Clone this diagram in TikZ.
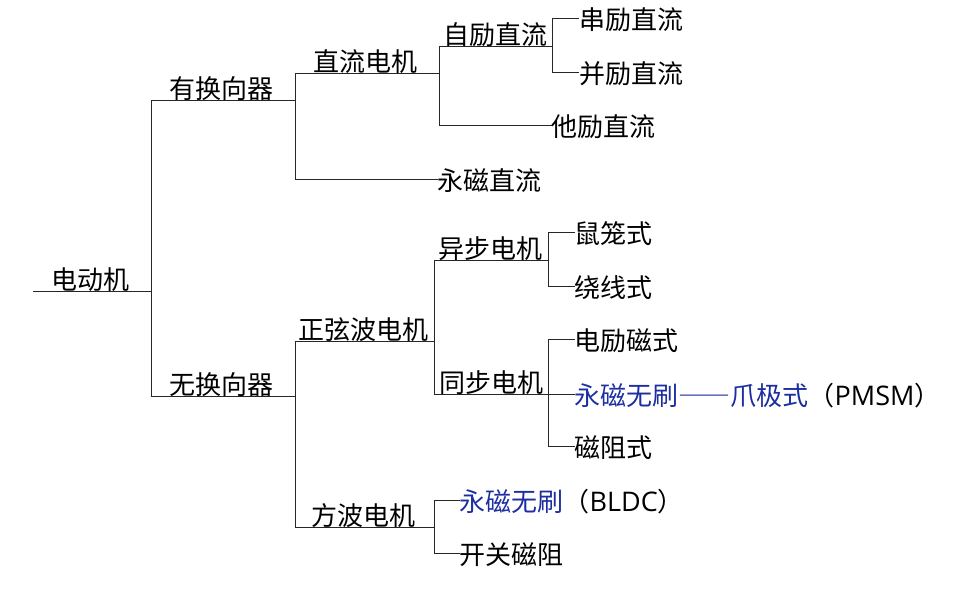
\documentclass[tikz,border=0pt]{standalone}
\usepackage{fontspec}
\setmainfont{Noto Sans CJK SC}
\newfontfamily\fwfont[RawFeature=+fwid]{Noto Sans CJK SC}
\newfontfamily\latfont{Open Sans}
\definecolor{pmblue}{RGB}{28,46,160}
\definecolor{treeline}{RGB}{38,38,38}
\newcommand{\latn}[1]{{\latfont\fontsize{27}{30}\selectfont #1}}
\begin{document}
\begin{tikzpicture}[x=1pt,y=-1pt,
  tree/.style={line width=1pt, draw=treeline},
  lbl/.style={inner sep=0pt, anchor=base west, font=\fontsize{26}{30}\selectfont, text=black},
  ]
\useasboundingbox (0,0) rectangle (958,605);

% labels
\node[lbl] (n0) at (51.5,289) {电动机};
\node[lbl] (n1) at (169.5,98) {有换向器};
\node[lbl] (n2) at (169.5,394) {无换向器};
\node[lbl] (n11) at (313.5,71) {直流电机};
\node[lbl] (n12) at (437.5,190.5) {永磁直流};
\node[lbl] (n111) at (443.5,44) {自励直流};
\node[lbl] (n112) at (551.5,136.5) {他励直流};
\node[lbl] (n1111) at (579,29.5) {串励直流};
\node[lbl] (n1112) at (579,83.5) {并励直流};
\node[lbl] (n21) at (298.5,339) {正弦波电机};
\node[lbl] (n22) at (311.5,525) {方波电机};
\node[lbl] (n211) at (438.5,258) {异步电机};
\node[lbl] (n212) at (439.5,392) {同步电机};
\node[lbl] (n2111) at (574.5,243.5) {鼠笼式};
\node[lbl] (n2112) at (574.5,297.5) {绕线式};
\node[lbl] (n2121) at (574.5,350.5) {电励磁式};
\node[lbl] (n2122) at (574.5,405.5) {\textcolor{pmblue}{永磁无刷{\fwfont ——}爪极式}（\latn{PMSM}）};
\node[lbl] (n2123) at (574.5,457.5) {磁阻式};
\node[lbl] (n221) at (459.5,511.5) {\textcolor{pmblue}{永磁无刷}（\latn{BLDC}）};
\node[lbl] (n222) at (459.5,564.5) {开关磁阻};

% junction coordinates
\coordinate (r) at (33,291);
\coordinate (j0) at (151,291);
\coordinate (c1) at (151,100);
\coordinate (c2) at (151,396);
\coordinate (d1) at (295,100);
\coordinate (d2) at (295,396);
% upper DC branch
\coordinate (e1) at (295,73);
\coordinate (e2) at (295,179);
\coordinate (f1) at (439,73);
\coordinate (g1) at (439,46);
\coordinate (g2) at (439,125);
\coordinate (h1) at (552,46);
\coordinate (h0) at (552,18);
\coordinate (h2) at (552,72);
% lower branch
\coordinate (k1) at (295,341);
\coordinate (k2) at (295,527);
\coordinate (m1) at (434,341);
\coordinate (m2) at (434,527);
\coordinate (p1) at (434,260);
\coordinate (p2) at (434,394);
\coordinate (q1) at (548,260);
\coordinate (q0) at (548,232);
\coordinate (q2) at (548,286);
\coordinate (s1) at (548,394);
\coordinate (s0) at (548,339);
\coordinate (s2) at (548,446);
\coordinate (t1) at (434,500);
\coordinate (t2) at (434,553);

% root
\draw[tree] (r) -- (j0);
\draw[tree] (c1) -- (c2);
\draw[tree] (c1) -- (d1);
\draw[tree] (c2) -- (d2);
% 有换向器
\draw[tree] (e1) -- (e2);
\draw[tree] (e1) -- (f1);
\draw[tree] (e2) -- (n12.west |- e2);
\draw[tree] (g1) -- (g2);
\draw[tree] (g1) -- (h1);
\draw[tree] (g2) -- (n112.west |- g2);
\draw[tree] (h0) -- (h2);
\draw[tree] (h0) -- (n1111.west |- h0);
\draw[tree] (h2) -- (n1112.west |- h2);
% 无换向器
\draw[tree] (k1) -- (k2);
\draw[tree] (k1) -- (m1);
\draw[tree] (k2) -- (m2);
\draw[tree] (p1) -- (p2);
\draw[tree] (p1) -- (q1);
\draw[tree] (p2) -- (s1);
\draw[tree] (q0) -- (q2);
\draw[tree] (q0) -- (n2111.west |- q0);
\draw[tree] (q2) -- (n2112.west |- q2);
\draw[tree] (s0) -- (s2);
\draw[tree] (s0) -- (n2121.west |- s0);
\draw[tree] (s1) -- (n2122.west |- s1);
\draw[tree] (s2) -- (n2123.west |- s2);
\draw[tree] (t1) -- (t2);
\draw[tree] (t1) -- (n221.west |- t1);
\draw[tree] (t2) -- (n222.west |- t2);
\end{tikzpicture}
\end{document}
